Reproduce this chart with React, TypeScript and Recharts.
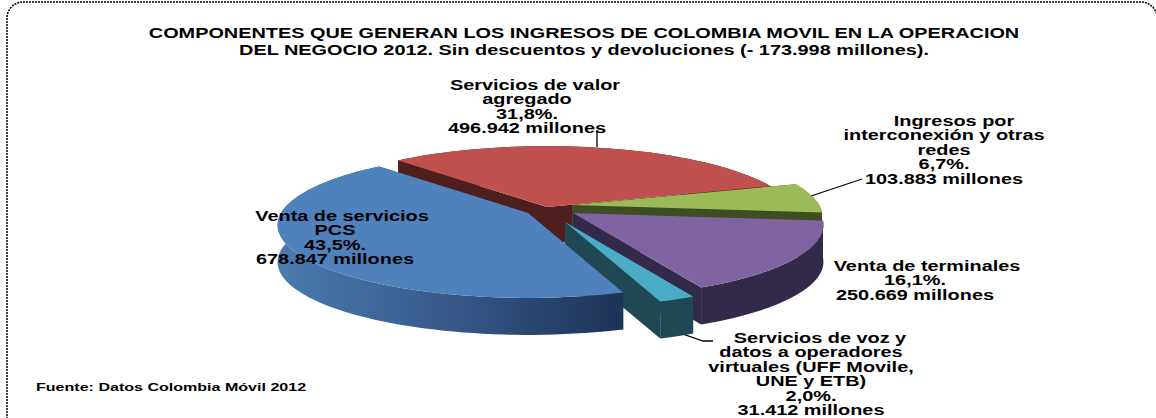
import React from 'react';
import { PieChart, Pie, Cell } from 'recharts';

const categories = ['Servicios de valor agregado', 'Ingresos por interconexión y otras redes', 'Venta de terminales', 'Servicios de voz y datos a operadores virtuales (UFF Movile, UNE y ETB)', 'Venta de servicios PCS'];
const values = [496942, 103883, 250669, 31412, 678847];
const nameLines = [
  ['Servicios de valor', 'agregado'],
  ['Ingresos por', 'interconexión y otras', 'redes'],
  ['Venta de terminales'],
  ['Servicios de voz y', 'datos a operadores', 'virtuales (UFF Movile,', 'UNE y ETB)'],
  ['Venta de servicios', 'PCS'],
];
const percentLabels = ['31,8%.', '6,7%.', '16,1%.', '2,0%.', '43,5%.'];
const valueLabels = ['496.942 millones', '103.883 millones', '250.669 millones', '31.412 millones', '678.847 millones'];
const titleLines = [
  'COMPONENTES QUE GENERAN LOS INGRESOS DE COLOMBIA MOVIL EN LA OPERACION',
  'DEL NEGOCIO 2012. Sin descuentos y devoluciones (- 173.998 millones).',
];
const sourceNote = 'Fuente:  Datos Colombia Móvil 2012';

// look of each slice
const topColors = ['#C0504D', '#9BBB59', '#8064A2', '#4BACC6', '#4F81BD'];
const sideColors = ['#4E1F1E', '#3F4D22', '#33294A', '#1F4754', 'url(#blueSide)'];

// layout
const CX = 550;
const CY = 213;
const RADIUS = 247;
const SQUASH = 0.287;
const PERSPECTIVE = 0.165;
const DEPTH = 37;
const explode = [[-3, -6], [22, -8], [23, 0], [15, 9], [-22, 0]];
const labelSpots = [[527, 90], [944, 126], [915, 271], [811, 343], [335, 221]];
const firstLineNudge = [8, 10, 12, 9, 7]; // the first line of each label starts a bit further right
const leaders = ['597,130 597,147', '811,196 862,179', '677,332 703,341 713,341'];

const FONT = '"Liberation Sans", Arial, sans-serif';

const SliceShape = (props: any) => {
  const { cx, cy, outerRadius, startAngle, endAngle, index } = props;
  const [dx, dy] = explode[index];
  const apexX = cx + dx;
  const apexY = cy + dy;
  const point = (deg: number) => {
    const a = (deg * Math.PI) / 180;
    const u = Math.cos(a);
    const v = -Math.sin(a);
    const s = 1 / (1 - PERSPECTIVE * v);
    return [apexX + outerRadius * u * s, apexY + outerRadius * SQUASH * v * s];
  };
  const arc: number[][] = [];
  const steps = Math.max(2, Math.ceil(Math.abs(endAngle - startAngle) / 2));
  for (let i = 0; i <= steps; i++) {
    arc.push(point(startAngle + ((endAngle - startAngle) * i) / steps));
  }
  const pts = (list: number[][], off = 0) => list.map((p) => `${p[0].toFixed(1)},${(p[1] + off).toFixed(1)}`).join(' ');
  const first = arc[0];
  const last = arc[arc.length - 1];
  const apex = [apexX, apexY];
  const side = sideColors[index];
  return (
    <g>
      <polygon points={pts(arc) + ' ' + pts([...arc].reverse(), DEPTH)} fill={side} />
      <polygon points={pts([apex, first]) + ' ' + pts([first, apex], DEPTH)} fill={side} />
      <polygon points={pts([apex, last]) + ' ' + pts([last, apex], DEPTH)} fill={side} />
      <polygon points={pts([apex, ...arc])} fill={topColors[index]} />
    </g>
  );
};

const StretchedText = ({ x, y, size, stretch, anchor = 'middle', children }: any) => (
  <text
    transform={`translate(${x},${y}) scale(${stretch},1)`}
    textAnchor={anchor}
    fontFamily={FONT}
    fontWeight="bold"
    fontSize={size}
    fill="#000"
  >
    {children}
  </text>
);

const renderLabel = (props: any) => {
  const i = props.index;
  const lines = [...nameLines[i], percentLabels[i], valueLabels[i]];
  const [x, y] = labelSpots[i];
  return (
    <g key={i}>
      {lines.map((line, n) => (
        <StretchedText key={n} x={n === 0 ? x + firstLineNudge[i] : x} y={y + n * 14.4} size={14} stretch={1.42}>
          {line}
        </StretchedText>
      ))}
    </g>
  );
};

const data = categories.map((name, i) => ({ name, value: values[i] }));

export default function App() {
  return (
    <div style={{ position: 'fixed', left: 0, top: 0, width: 1156, height: 418, background: '#fff' }}>
      <PieChart width={1156} height={418} margin={{ top: 0, right: 0, bottom: 0, left: 0 }}>
        <defs>
          <linearGradient id="blueSide" gradientUnits="userSpaceOnUse" x1="280" y1="0" x2="615" y2="0">
            <stop offset="0" stopColor="#4A7AB0" />
            <stop offset="0.5" stopColor="#38598A" />
            <stop offset="1" stopColor="#1D3557" />
          </linearGradient>
        </defs>
        <rect x={7} y={2} width={1150} height={430} rx={16} fill="none" stroke="#000" strokeWidth={1.5} strokeDasharray="2 1" />
        {titleLines.map((line, i) => (
          <StretchedText key={i} x={584} y={38 + i * 16.5} size={14} stretch={1.42}>
            {line}
          </StretchedText>
        ))}
        <StretchedText x={36} y={391} size={11} stretch={1.46} anchor="start">
          {sourceNote}
        </StretchedText>
        {leaders.map((p, i) => (
          <polyline key={i} points={p} fill="none" stroke="#000" strokeWidth={1.3} />
        ))}
        <Pie
          data={data}
          dataKey="value"
          nameKey="name"
          cx={CX}
          cy={CY}
          outerRadius={RADIUS}
          startAngle={132.5}
          endAngle={-227.5}
          stroke="none"
          shape={SliceShape}
          label={renderLabel}
          labelLine={false}
          isAnimationActive={false}
        >
          {data.map((d, i) => (
            <Cell key={d.name} fill={topColors[i]} />
          ))}
        </Pie>
      </PieChart>
    </div>
  );
}
